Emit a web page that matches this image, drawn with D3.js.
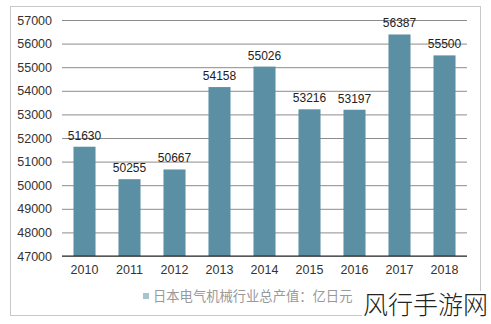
<!DOCTYPE html>
<html>
<head>
<meta charset="utf-8">
<script src="https://cdn.jsdelivr.net/npm/d3@7/dist/d3.min.js"></script>
<style>
  html, body { margin: 0; padding: 0; background: #fff; }
  svg { display: block; }
</style>
</head>
<body>
<svg id="chart" width="491" height="324"></svg>
<script>
// 日本电气机械行业总产值（亿日元）
const years = ["2010", "2011", "2012", "2013", "2014", "2015", "2016", "2017", "2018"];
const output = [51630, 50255, 50667, 54158, 55026, 53216, 53197, 56387, 55500];
const yTicks = [47000, 48000, 49000, 50000, 51000, 52000, 53000, 54000, 55000, 56000, 57000];
const legendLabel = "日本电气机械行业总产值：亿日元";
const watermark = "风行手游网";

const svg = d3.select("#chart");
const font = "Arial, 'Liberation Sans', 'Noto Sans CJK SC', sans-serif";
const barColor = "#5b8fa3";

const plot = { left: 62, right: 467, top: 20, bottom: 256 };

// outer frame
svg.append("rect")
  .attr("x", 10.5).attr("y", 6.5)
  .attr("width", 470).attr("height", 309)
  .attr("fill", "#fff").attr("stroke", "#c8c8c8").attr("stroke-width", 1);

const x = d3.scaleBand().domain(years).range([plot.left, plot.right]).paddingInner(0.51).paddingOuter(0.255);
const y = d3.scaleLinear().domain([47000, 57000]).range([plot.bottom, plot.top]);

// horizontal gridlines
const yAxis = d3.axisLeft(y).tickValues(yTicks).tickFormat(d3.format("d"))
  .tickSize(-(plot.right - plot.left)).tickPadding(10);
const gy = svg.append("g").attr("transform", `translate(${plot.left},0)`).call(yAxis);
gy.select(".domain").remove();
gy.selectAll(".tick line").attr("stroke", "#8c8c8c").attr("stroke-width", 1);
gy.selectAll(".tick text").attr("fill", "#333").style("font-family", font).style("font-size", "12.5px");

// bars
svg.append("g").selectAll("rect").data(years).join("rect")
  .attr("x", (d) => x(d))
  .attr("width", x.bandwidth())
  .attr("y", (d, i) => y(output[i]))
  .attr("height", (d, i) => y(47000) - y(output[i]))
  .attr("fill", barColor);

// value labels
svg.append("g").selectAll("text").data(years).join("text")
  .attr("x", (d) => x(d) + x.bandwidth() / 2)
  .attr("y", (d, i) => y(output[i]) - 7)
  .attr("text-anchor", "middle")
  .attr("fill", "#222")
  .style("font-family", font).style("font-size", "12px")
  .text((d, i) => output[i]);

// category axis
const xAxis = d3.axisBottom(x).tickSize(0).tickPadding(9);
const gx = svg.append("g").attr("transform", `translate(0,${plot.bottom})`).call(xAxis);
gx.select(".domain").attr("stroke", "#222").attr("stroke-width", 1.2)
  .attr("d", `M${plot.left},0H${plot.right}`);
gx.selectAll(".tick text").attr("fill", "#333").style("font-family", font).style("font-size", "12.5px");

// legend
const lg = svg.append("g").attr("transform", "translate(143,296)");
lg.append("rect").attr("x", 0).attr("y", -3).attr("width", 6).attr("height", 6).attr("fill", "#a9c3cf");
lg.append("text").attr("x", 10).attr("y", 0).attr("dy", "0.35em")
  .attr("fill", "#999").style("font-family", "'Noto Sans CJK SC', sans-serif").style("font-size", "13.3px")
  .text(legendLabel);

// site mark
svg.append("rect").attr("x", 362).attr("y", 291).attr("width", 129).attr("height", 33).attr("fill", "#fff");
svg.append("text").attr("x", 363).attr("y", 314)
  .attr("fill", "#222")
  .style("font-family", "'Noto Sans CJK SC', sans-serif").style("font-weight", 300).style("font-size", "25px")
  .text(watermark);
</script>
</body>
</html>
